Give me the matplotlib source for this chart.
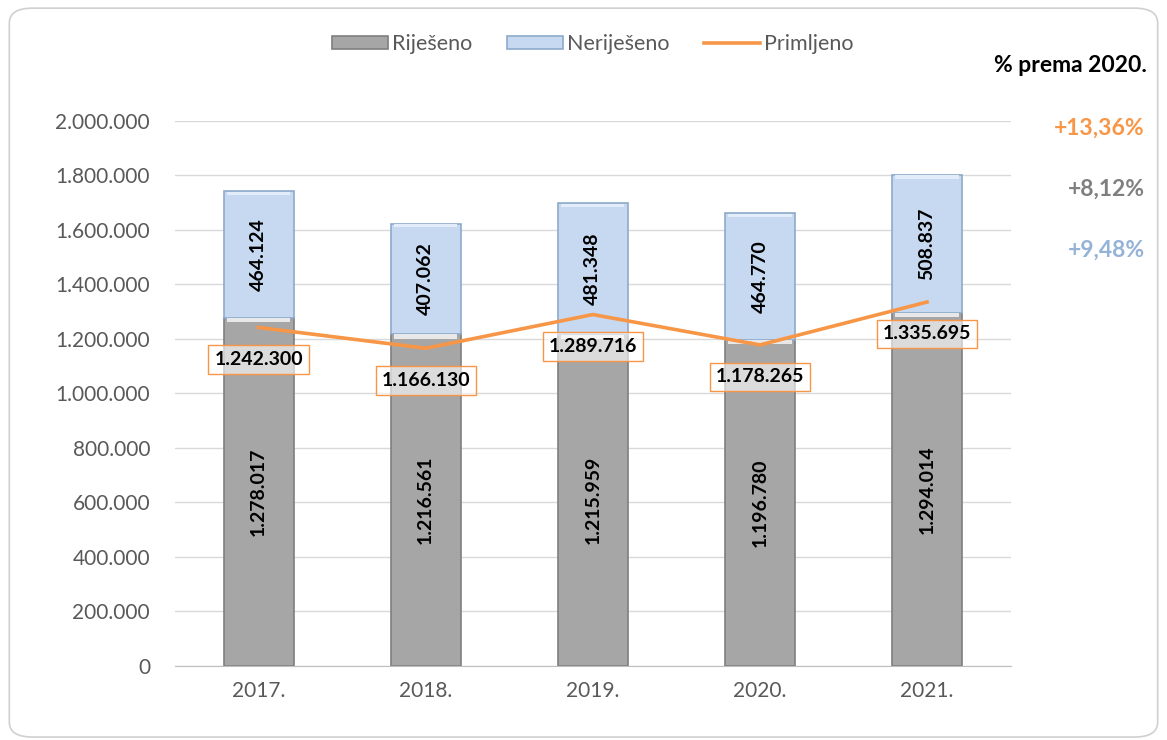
import numpy as np
import matplotlib.pyplot as plt
from matplotlib.patches import FancyBboxPatch
from matplotlib.ticker import FuncFormatter

plt.rcParams['font.family'] = ['Lato', 'DejaVu Sans']

godine = ["2017.", "2018.", "2019.", "2020.", "2021."]
rijeseno = [1278017, 1216561, 1215959, 1196780, 1294014]
nerijeseno = [464124, 407062, 481348, 464770, 508837]
primljeno = [1242300, 1166130, 1289716, 1178265, 1335695]
postoci = ["+13,36%", "+8,12%", "+9,48%"]
boje_postotaka = ["#f79646", "#7f7f7f", "#95b3d7"]


def fmt(v):
    return f"{int(v):,}".replace(",", ".")


fig = plt.figure(figsize=(11.67, 7.4), dpi=100)
frame = FancyBboxPatch((0.008, 0.004), 0.984, 0.985, boxstyle="round,pad=0,rounding_size=0.02",
                       transform=fig.transFigure, facecolor="white", edgecolor="#d0d0d0", lw=1.2,
                       zorder=-10)
fig.patches.append(frame)

ax = fig.add_axes([0.150, 0.100, 0.716, 0.7365])
ax.patch.set_alpha(0)
x = np.arange(len(godine))
w = 0.42

b1 = ax.bar(x, rijeseno, w, color="#a6a6a6", edgecolor="#7f7f7f", lw=1.2, zorder=2, label="Riješeno")
b2 = ax.bar(x, nerijeseno, w, bottom=rijeseno, color="#c6d9f1", edgecolor="#8eaacb", lw=1.2, zorder=2,
            label="Neriješeno")
# light bevel at top of each segment
ax.bar(x, [15000] * 5, w * 0.9, bottom=np.array(rijeseno) - 15000, color="#e8e8e8", lw=0, zorder=3)
ax.bar(x, [12000] * 5, w * 0.9, bottom=np.array(rijeseno) + np.array(nerijeseno) - 14000,
       color="#e3edf9", lw=0, zorder=3)
l1, = ax.plot(x, primljeno, color="#f79646", lw=2.6, zorder=4, label="Primljeno")

for i in range(len(x)):
    ax.text(x[i], rijeseno[i] / 2, fmt(rijeseno[i]), rotation=90, ha="center", va="center",
            fontsize=14, fontweight="bold", color="black", zorder=5)
    ax.text(x[i], rijeseno[i] + nerijeseno[i] / 2, fmt(nerijeseno[i]), rotation=90, ha="center",
            va="center", fontsize=14, fontweight="bold", color="black", zorder=5)
    ax.annotate(fmt(primljeno[i]), (x[i], primljeno[i]), xytext=(0, -23), textcoords="offset points",
                ha="center", va="center", fontsize=14, fontweight="bold", color="black", zorder=6,
                bbox=dict(boxstyle="square,pad=0.3", facecolor=(1, 1, 1, 0.6), edgecolor="#f79646", lw=1))

ax.set_xlim(-0.5, 4.5)
ax.set_ylim(0, 2000000)
ax.set_yticks(np.arange(0, 2000001, 200000))
ax.yaxis.set_major_formatter(FuncFormatter(lambda v, p: fmt(v)))
ax.set_xticks(x)
ax.set_xticklabels(godine)
ax.tick_params(axis="both", length=0, labelsize=15, colors="#595959", pad=11)
ax.tick_params(axis="y", pad=18)
ax.grid(axis="y", color="#d9d9d9", lw=1, zorder=0)
for s in ["top", "right", "left"]:
    ax.spines[s].set_visible(False)
ax.spines["bottom"].set_color("#bfbfbf")
ax.set_axisbelow(True)

leg = fig.legend([b1, b2, l1], ["Riješeno", "Neriješeno", "Primljeno"], loc="center",
                 bbox_to_anchor=(0.508, 0.94), ncol=3, frameon=False, fontsize=15.5,
                 handlelength=2.6, handleheight=0.55, columnspacing=1.6, handletextpad=0.2)
for t in leg.get_texts():
    t.set_color("#595959")

fig.text(0.983, 0.912, "% prema 2020.", ha="right", va="center", fontsize=16.5, fontweight="bold", color="black")
for i, (p, c) in enumerate(zip(postoci, boje_postotaka)):
    fig.text(0.981, 0.827 - i * 0.0825, p, ha="right", va="center", fontsize=16.5, fontweight="bold", color=c)

fig.savefig("out.png", dpi=100)
